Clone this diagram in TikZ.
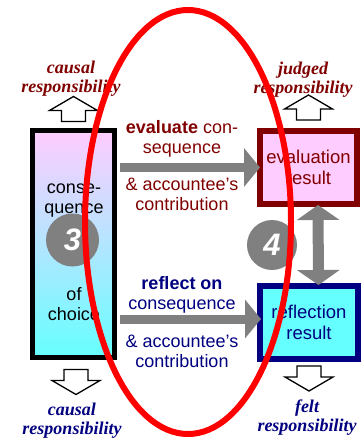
\documentclass[tikz,border=0pt]{standalone}
\usepackage{fontspec}
\setmainfont{Liberation Sans}
\newfontfamily\labelfont{Liberation Serif}
\usetikzlibrary{positioning,arrows.meta}
\definecolor{darkred}{HTML}{800000}
\definecolor{darkblue}{HTML}{000080}
\definecolor{pinkfill}{HTML}{FFCCFF}
\definecolor{cyanfill}{HTML}{66FFFF}
\definecolor{arrgray}{HTML}{808080}

\begin{document}
\begin{tikzpicture}[x=1pt, y=-1pt,
	box/.style = {draw, line width=6pt, inner sep=0pt, align=center, font=\fontsize{18.5}{21}\selectfont},
	txt/.style = {align=center, inner sep=0pt, font=\fontsize{18}{20}\selectfont},
	resp/.style = {align=center, inner sep=0pt, font=\labelfont\bfseries\itshape\fontsize{18}{19}\selectfont},
	num/.style = {circle, fill=arrgray, text=white, inner sep=0pt, font=\bfseries\itshape\fontsize{31}{31}\selectfont},
	grayarr/.style = {arrgray, line width=9pt, -{Triangle[length=16pt,width=38pt]}},
	hollow/.pic = {\draw[fill=white, line width=1.3pt] (0,0) -- (24,14) -- (12,14) -- (12,25) -- (-12,25) -- (-12,14) -- (-24,14) -- cycle;}]
	\useasboundingbox (0,0) rectangle (361,441);
	% boxes
	\node[box, line width=5pt, top color=pinkfill, bottom color=cyanfill, minimum width=82pt, minimum height=227pt] (cons) at (73.5,244) {};
	\node[box, draw=darkred, fill=pinkfill, text=darkred, minimum width=97pt, minimum height=73pt] (eval) at (308.5,167.5) {evaluation\\result};
	\node[box, draw=darkblue, fill=cyanfill, text=darkblue, minimum width=98pt, minimum height=73pt] (refl) at (309,322.5) {reflection\\result};
	\node[txt] (consTop) at (74,201) {conse-\\quence};
	\node[txt] (consBot) at (74,304) {of\\choice};
	\node[num, minimum size=53pt] (n3) at (72.5,240) {3};
	\node[num, minimum size=50pt] (n4) at (272,245) {4};
	% arrow labels
	\node[txt, text=darkred] (evalA) at (182,138.5) {\textbf{evaluate} con-\\sequence};
	\node[txt, text=darkred] (evalB) at (182,194) {\& accountee's\\contribution};
	\node[txt, text=darkblue] (reflA) at (182,295) {\textbf{reflect on}\\consequence};
	\node[txt, text=darkblue] (reflB) at (182,351) {\& accountee's\\contribution};
	% gray arrows
	\coordinate (r1) at ([yshift=3.5pt]refl.west);
	\draw[grayarr, shorten <=2.5pt, shorten >=-3pt] (cons.east |- eval.west) -- (eval.west);
	\draw[grayarr, shorten <=2.5pt, shorten >=-4pt] (cons.east |- r1) -- (r1);
	\draw[arrgray, line width=11pt, {Triangle[length=15pt,width=42pt]}-{Triangle[length=15pt,width=42pt]}, shorten <=-2pt, shorten >=-2pt] ([xshift=9.5pt]eval.south) -- ([xshift=9.5pt]refl.north);
	% responsibility
	\pic at ([yshift=31.5pt]cons.north) {hollow};
	\pic[yscale=-1] at ([xshift=2.5pt, yshift=-34.5pt]cons.south) {hollow};
	\pic at ([yshift=33pt]eval.north) {hollow};
	\pic[yscale=-1] at ([yshift=-29pt]refl.south) {hollow};
	\node[resp, text=darkred] (respA) at (71,78.5) {causal\\responsibility};
	\node[resp, text=darkred] (respB) at (303,79.5) {judged\\responsibility};
	\node[resp, text=darkblue] (respC) at (72,421) {causal\\responsibility};
	\node[resp, text=darkblue] (respD) at (307,418) {felt\\responsibility};
	% ellipse
	\draw[red, line width=6pt] (188,222) ellipse [x radius=103pt, y radius=212pt];
\end{tikzpicture}
\end{document}
